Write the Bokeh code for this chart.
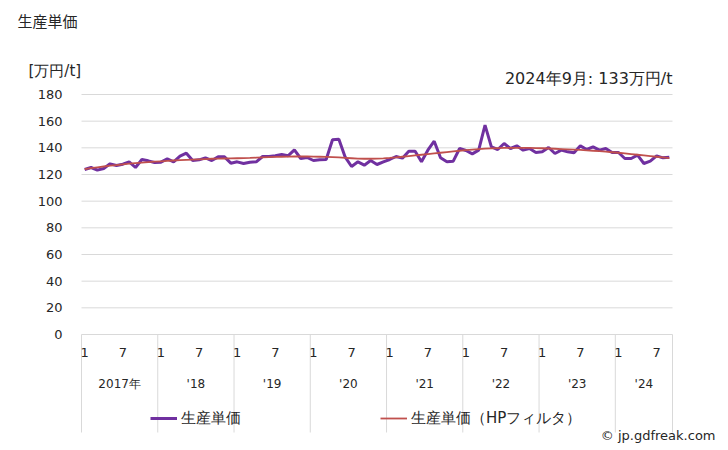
from bokeh.plotting import figure
from bokeh.models import Range1d, Label, Legend, LegendItem, ColumnDataSource
from bokeh.core.properties import value
from bokeh.embed import file_html
from bokeh.resources import INLINE

# ---- data ----
years = [2017, 2018, 2019, 2020, 2021, 2022, 2023, 2024]
year_labels = ["2017年", "'18", "'19", "'20", "'21", "'22", "'23", "'24"]
months_per_year = [12, 12, 12, 12, 12, 12, 12, 9]

price_2017 = [123.75, 125.25, 123.25, 124.5, 128, 126.75, 127.75, 129.5, 125.25, 131.25, 130.25, 129]
price_2018 = [129.25, 131.75, 129.5, 133.75, 136, 130.5, 131, 132.5, 130.5, 133.25, 133.25, 128.5]
price_2019 = [129.5, 128.25, 129.25, 129.5, 133.5, 133.5, 134, 135, 134, 138.5, 132, 132.75]
price_2020 = [130.5, 131, 131.25, 146, 146.5, 133, 126, 129.5, 127, 130.5, 127.5, 129.5]
price_2021 = [131.25, 133.5, 132.25, 137.5, 137.5, 129.5, 138.25, 145, 132.5, 129.5, 130, 139.5]
price_2022 = [138, 135.5, 138.25, 157, 140.75, 138.75, 143.25, 139.5, 141.5, 138.25, 139.5, 136.5]
price_2023 = [137, 140.25, 135.75, 138.25, 137, 136.25, 141.5, 138.75, 140.75, 138.25, 139.5, 136.5]
price_2024 = [136.5, 132, 132, 134.5, 128.25, 130, 134, 132.5, 133]

hp_2017 = [124, 124.7, 125.4, 126, 126.6, 127.1, 127.6, 128.1, 128.5, 128.9, 129.3, 129.6]
hp_2018 = [129.9, 130.2, 130.5, 130.8, 131, 131.2, 131.4, 131.6, 131.8, 131.9, 132, 132.1]
hp_2019 = [132.2, 132.3, 132.4, 132.6, 132.8, 133, 133.2, 133.3, 133.4, 133.5, 133.5, 133.5]
hp_2020 = [133.4, 133.3, 133.2, 133, 132.8, 132.5, 132.2, 131.9, 131.8, 131.8, 131.9, 132.1]
hp_2021 = [132.4, 132.8, 133.3, 133.8, 134.3, 134.8, 135.3, 135.8, 136.3, 136.8, 137.3, 137.8]
hp_2022 = [138.3, 138.7, 139.1, 139.4, 139.6, 139.8, 139.9, 140, 140, 140, 139.9, 139.8]
hp_2023 = [139.7, 139.5, 139.3, 139.1, 138.9, 138.7, 138.4, 138.1, 137.8, 137.5, 137.1, 136.7]
hp_2024 = [136.3, 135.8, 135.3, 134.8, 134.3, 133.8, 133.3, 132.8, 132.3]

y_ticks = [0, 20, 40, 60, 80, 100, 120, 140, 160, 180]
month_tick_values = [1, 7]

price = (price_2017 + price_2018 + price_2019 + price_2020 + price_2021
         + price_2022 + price_2023 + price_2024)
hp = hp_2017 + hp_2018 + hp_2019 + hp_2020 + hp_2021 + hp_2022 + hp_2023 + hp_2024

month_of = []
for n in months_per_year:
    month_of += list(range(1, n + 1))
idx = list(range(len(price)))

# ---- layout: the frame covers the whole canvas; plot area is 81..672 x 94..334 px ----
W, H = 728, 450
PL, PR, PT, PB = 81, 672, 94, 334   # plot-area edges in px
TABLE_BOTTOM = 432
X0, X1 = -0.5, len(price) - 0.5     # category extent of the plot area
YMAX = y_ticks[-1]
XPU = (PR - PL) / (X1 - X0)          # px per x unit
YPU = (PB - PT) / YMAX               # px per y unit


def px2x(px):
    return X0 + (px - PL) / XPU


def py2y(py):
    return (PB - py) / YPU


JP = "Noto Sans CJK JP"
NUM = "DejaVu Sans"
TXT = "#262626"
GRID = "#d9d9d9"

p = figure(width=W, height=H, output_backend="svg", toolbar_location=None,
           x_range=Range1d(px2x(0), px2x(W)), y_range=Range1d(py2y(H), py2y(0)),
           min_border=0, x_axis_location=None, y_axis_location=None)
p.outline_line_color = None
p.grid.visible = False

# horizontal gridlines and y tick labels
p.segment(x0=X0, y0=y_ticks, x1=X1, y1=y_ticks, line_color=GRID, line_width=1)
p.text(x=px2x(62), y=y_ticks, text=[str(t) for t in y_ticks], text_align="right",
       text_baseline="middle", text_font=value(NUM), text_font_size="13px", text_color=TXT)

# category-axis table: year separators
bounds = []
start = 0
for n in months_per_year:
    bounds.append(start - 0.5)
    start += n
bounds.append(start - 0.5)
p.segment(x0=bounds, y0=0, x1=bounds, y1=py2y(TABLE_BOTTOM), line_color=GRID, line_width=1)

# month labels
mt_x = [i for i, m in zip(idx, month_of) if m in month_tick_values]
mt_t = [str(m) for m in month_of if m in month_tick_values]
p.text(x=mt_x, y=py2y(352), text=mt_t, text_align="center", text_baseline="middle",
       text_font=value(NUM), text_font_size="13px", text_color=TXT)

# year labels
yc = []
start = 0
for n in months_per_year:
    yc.append(start + (n - 1) / 2)
    start += n
p.text(x=yc, y=py2y(383), text=year_labels, text_align="center", text_baseline="middle",
       text_font=value(NUM), text_font_size="12px", text_color=TXT)

src = ColumnDataSource(dict(x=idx, price=price, hp=hp))
r1 = p.line("x", "price", source=src, line_color="#7030a0", line_width=3)
r2 = p.line("x", "hp", source=src, line_color="#c0504d", line_width=1.8)

legend = Legend(items=[LegendItem(label="生産単価", renderers=[r1]),
                       LegendItem(label="生産単価（HPフィルタ）", renderers=[r2])],
                orientation="horizontal", location=(150, H - 428),
                border_line_color=None, background_fill_alpha=0,
                padding=0, margin=0, spacing=139, glyph_width=27, label_standoff=4,
                label_text_font=NUM, label_text_font_size="15px", label_text_color=TXT)
p.add_layout(legend)

p.add_layout(Label(x=px2x(17), y=py2y(20), text="生産単価", text_baseline="middle",
                   text_font=JP, text_font_size="15px", text_color=TXT))
p.add_layout(Label(x=px2x(28), y=py2y(70), text="[万円/t]", text_baseline="middle",
                   text_font=NUM, text_font_size="15px", text_color=TXT))
p.add_layout(Label(x=px2x(672), y=py2y(78), text="2024年9月: 133万円/t", text_align="right",
                   text_baseline="middle", text_font=NUM, text_font_size="16px", text_color=TXT))
p.add_layout(Label(x=px2x(715), y=py2y(435), text="© jp.gdfreak.com", text_align="right",
                   text_baseline="middle", text_font=NUM, text_font_size="13px", text_color=TXT))

open("out.html", "w").write(file_html(p, INLINE))
